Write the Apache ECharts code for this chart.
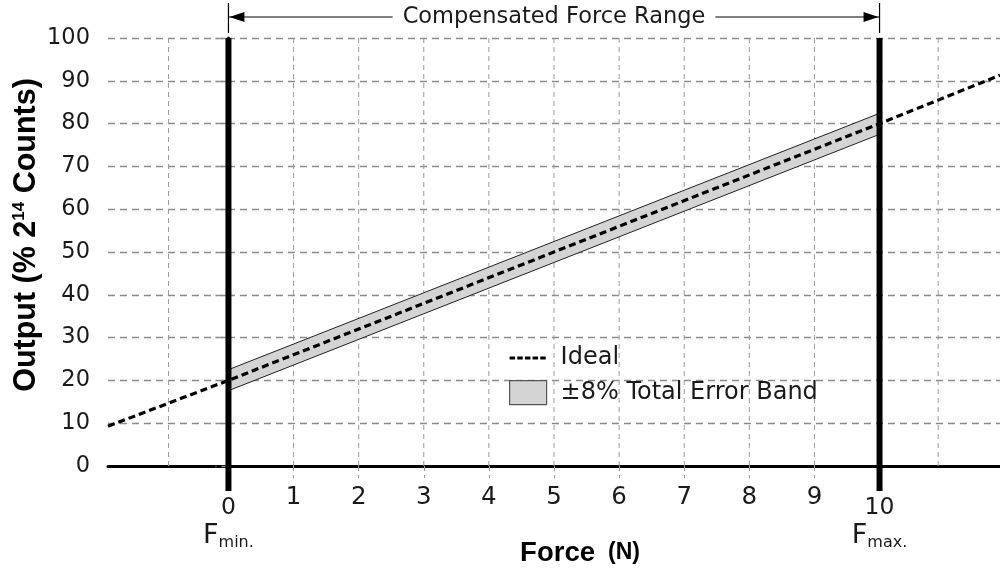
<!DOCTYPE html>
<html><head><meta charset="utf-8">
<script src="https://cdn.jsdelivr.net/npm/echarts@6/dist/echarts.min.js"></script>
<style>html,body{margin:0;padding:0;background:#fff}#c{width:1000px;height:575px}</style>
</head><body><div id="c"></div>
<script>
// ---- data ----
const xTickValues = [1, 2, 3, 4, 5, 6, 7, 8, 9];
const xGridValues = [-0.92, 1, 2, 3, 4, 5, 6, 7, 8, 9, 10.9];
const idealX = [-1.85, 0, 10, 11.85];
const idealY = [9.3, 20, 80, 91.3];
const bandX = [0, 10];
const bandLow = [17.6, 77.5];
const bandHigh = [22.5, 82.4];
const forceMarks = [0, 10];
const forceMarkLabels = ['0', '10'];
const forceMarkSubs = ['min.', 'max.'];
const rangeEnds = [0, 10];
const rangeLabel = 'Compensated Force Range';
const idealName = 'Ideal';
const bandName = '±8% Total Error Band';
const xTitle = ['Force', '(N)'];
const yTitle = ['Output (% 2', '14', ' Counts)'];

const FONT = 'DejaVu Sans';
const BOLD = 'Liberation Sans';
const TXT = '#1a1a1a';

// dashed legend sample (5 dashes), bounds fixed by the two leading moveTo points
const dashIcon = 'path://M0,0M43,24' +
  [0, 1, 2, 3, 4].map(k => 'M' + (k * 8.9) + ',10.4h6.4v3.2h-6.4z').join('');

const chart = echarts.init(document.getElementById('c'));

const option = {
  animation: false,
  backgroundColor: '#fff',
  grid: { left: 108, right: 0, top: 38, bottom: 109, containLabel: false, outerBoundsMode: 'none' },
  xAxis: {
    type: 'value', min: -1.85, max: 11.85,
    axisLine: { show: true, onZero: false, lineStyle: { color: '#000', width: 3 } },
    axisTick: { show: true, customValues: xTickValues, length: 12, lineStyle: { color: '#9a9a9a', width: 1, type: [5, 4] } },
    axisLabel: { customValues: xTickValues, fontSize: 24.5, fontFamily: FONT, color: TXT, margin: 19 },
    splitLine: { show: false }
  },
  yAxis: {
    type: 'value', min: 0, max: 100, interval: 10,
    axisLine: { show: true, lineStyle: { color: '#000', width: 3 } },
    axisTick: { show: true, length: 13, lineStyle: { color: '#8c8c8c', width: 1.3, type: [7, 5] } },
    axisLabel: { fontSize: 22.5, fontFamily: FONT, color: TXT, margin: 18 },
    splitLine: { show: true, lineStyle: { color: '#8c8c8c', width: 1.3, type: [7, 5] } }
  },
  legend: {
    left: 504, top: 341, orient: 'vertical',
    itemWidth: 37, itemHeight: 24, itemGap: 10,
    textStyle: { fontSize: 24, fontFamily: FONT, color: TXT, padding: [0, 0, 0, 9] },
    data: [
      { name: idealName, icon: dashIcon, itemStyle: { color: '#000', borderWidth: 0 } },
      { name: bandName, icon: 'rect', itemStyle: { color: '#d4d4d4', borderColor: '#555', borderWidth: 1.2 } }
    ]
  },
  graphic: [
    {
      type: 'text', x: 27, y: 235, rotation: Math.PI / 2,
      style: {
        text: '{a|' + yTitle[0] + '}{s|' + yTitle[1] + '}{a|' + yTitle[2] + '}',
        align: 'center', verticalAlign: 'middle',
        rich: {
          a: { fontSize: 30.5, fontWeight: 'bold', fontFamily: BOLD, fill: '#000', lineHeight: 33 },
          s: { fontSize: 17, fontWeight: 'bold', fontFamily: BOLD, fill: '#000', lineHeight: 22, verticalAlign: 'top' }
        }
      }
    },
    {
      type: 'text', x: 580, y: 553,
      style: {
        text: '{f|' + xTitle[0] + '}{n|' + xTitle[1] + '}',
        align: 'center', verticalAlign: 'middle',
        rich: {
          f: { fontSize: 27.5, fontWeight: 'bold', fontFamily: BOLD, fill: '#000' },
          n: { fontSize: 23, fontWeight: 'bold', fontFamily: BOLD, fill: '#000', padding: [0, 0, 0, 13] }
        }
      }
    }
  ],
  series: [
    {
      type: 'custom', z: 1, silent: true,
      data: xGridValues.map(v => [v, 0]),
      encode: { x: 0, y: 1 },
      renderItem(params, api) {
        const v = api.value(0);
        const t = api.coord([v, 100]);
        const b = api.coord([v, 0]);
        return { type: 'line', shape: { x1: t[0], y1: t[1], x2: b[0], y2: b[1] },
          style: { stroke: '#9a9a9a', lineWidth: 1, lineDash: [5, 4] } };
      }
    },
    {
      name: bandName, type: 'custom', z: 2,
      itemStyle: { color: '#d4d4d4', borderColor: '#555' },
      data: bandX.map((x, i) => [x, bandLow[i], bandHigh[i]]),
      encode: { x: 0, y: [1, 2] },
      renderItem(params, api) {
        const i = params.dataIndex;
        if (i >= bandX.length - 1) return null;
        const pts = [
          api.coord([bandX[i], bandLow[i]]),
          api.coord([bandX[i + 1], bandLow[i + 1]]),
          api.coord([bandX[i + 1], bandHigh[i + 1]]),
          api.coord([bandX[i], bandHigh[i]])
        ];
        return { type: 'polygon', shape: { points: pts }, style: { fill: '#d4d4d4', stroke: '#222', lineWidth: 1 } };
      }
    },
    {
      name: idealName, type: 'line', z: 3, symbol: 'none', silent: true,
      data: idealX.map((x, i) => [x, idealY[i]]),
      lineStyle: { color: '#000', width: 3.2, type: [7, 4] },
      itemStyle: { color: '#000' }
    },
    {
      type: 'custom', z: 4, silent: true,
      data: forceMarks.map(v => [v, 0]),
      encode: { x: 0, y: 1 },
      renderItem(params, api) {
        const i = params.dataIndex;
        const x = api.value(0);
        const t = api.coord([x, 100]);
        const b = api.coord([x, 0]);
        return { type: 'group', children: [
          { type: 'line', shape: { x1: t[0], y1: t[1], x2: b[0], y2: b[1] + 25 }, style: { stroke: '#000', lineWidth: 6 } },
          { type: 'text', x: b[0], y: b[1] + 42, style: { text: forceMarkLabels[i], fontSize: 23.5, fontFamily: FONT, fill: TXT, align: 'center', verticalAlign: 'middle' } },
          { type: 'text', x: b[0], y: b[1] + 70, style: {
              text: '{f|F}{s|' + forceMarkSubs[i] + '}', align: 'center', verticalAlign: 'middle',
              rich: {
                f: { fontSize: 27, fontFamily: FONT, fill: TXT, lineHeight: 30 },
                s: { fontSize: 16, fontFamily: FONT, fill: TXT, lineHeight: 12, verticalAlign: 'bottom' }
              } } }
        ] };
      }
    },
    {
      type: 'custom', z: 4, silent: true,
      data: [[rangeEnds[0], rangeEnds[1]]],
      encode: { x: [0, 1] },
      renderItem(params, api) {
        const a = api.coord([api.value(0), 100]);
        const b = api.coord([api.value(1), 100]);
        const y = a[1] - 21;
        return { type: 'group', children: [
          { type: 'line', shape: { x1: a[0], y1: a[1] - 35, x2: a[0], y2: a[1] - 5 }, style: { stroke: '#000', lineWidth: 1.2 } },
          { type: 'line', shape: { x1: b[0], y1: b[1] - 35, x2: b[0], y2: b[1] - 5 }, style: { stroke: '#000', lineWidth: 1.2 } },
          { type: 'line', shape: { x1: a[0], y1: y, x2: b[0], y2: y }, style: { stroke: '#000', lineWidth: 1 } },
          { type: 'polygon', shape: { points: [[a[0] + 1, y], [a[0] + 16, y - 5], [a[0] + 16, y + 5]] }, style: { fill: '#000' } },
          { type: 'polygon', shape: { points: [[b[0] - 1, y], [b[0] - 16, y - 5], [b[0] - 16, y + 5]] }, style: { fill: '#000' } },
          { type: 'text', x: (a[0] + b[0]) / 2, y: y, style: { text: rangeLabel, fontSize: 22.5, fontFamily: FONT, fill: TXT,
              align: 'center', verticalAlign: 'middle', backgroundColor: '#fff', padding: [0, 10] } }
        ] };
      }
    }
  ]
};
chart.setOption(option);
</script>
</body></html>
